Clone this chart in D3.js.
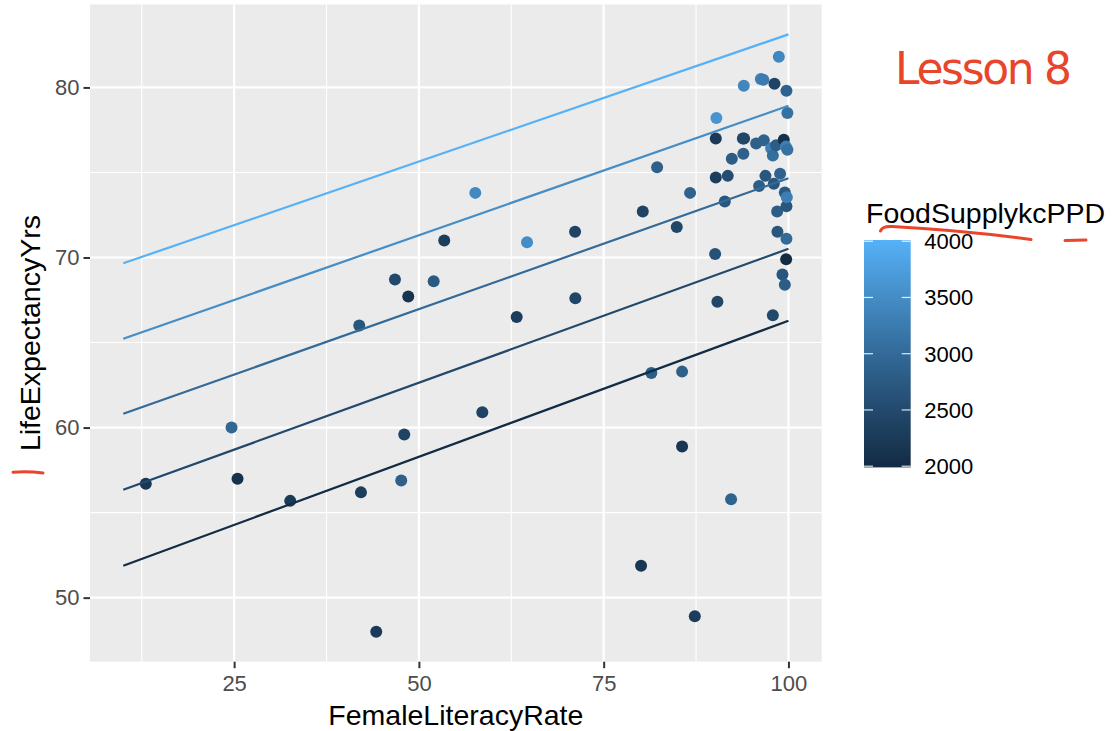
<!DOCTYPE html>
<html>
<head>
<meta charset="utf-8">
<script src="https://cdn.jsdelivr.net/npm/d3@7"></script>
<style>
  html, body { margin: 0; padding: 0; background: #ffffff; }
  svg { display: block; font-family: "Liberation Sans", Arial, Helvetica, sans-serif; }
</style>
</head>
<body>
<script>
// ---- Data ----
const femaleLiteracy = [13.05, 24.65, 25.46, 32.59, 41.93, 42.16, 44.23, 46.76, 47.61, 48.02,
  48.56, 52.0, 53.43, 57.63, 58.58, 63.23, 64.63, 71.13, 71.17, 80.06,
  80.29, 81.45, 82.23, 84.89, 85.61, 85.61, 86.69, 87.33, 90.08, 90.17,
  90.17, 90.25, 90.39, 91.39, 91.79, 92.24, 92.34, 93.83, 94.0, 93.9,
  93.96, 95.63, 96.03, 96.26, 96.6, 96.67, 96.89, 97.66, 97.89, 97.89,
  98.02, 98.11, 98.33, 98.47, 98.51, 98.7, 98.87, 99.19, 99.37, 99.51,
  99.51, 99.65, 99.69, 99.73, 99.73, 99.73, 99.78, 99.86, 99.86];
const lifeExpectancy = [56.69, 60.0, 56.99, 55.69, 66.0, 56.19, 47.99, 68.71, 56.89, 59.59,
  67.71, 68.6, 71.0, 73.8, 60.9, 66.5, 70.9, 71.51, 67.61, 51.88,
  72.7, 63.21, 75.3, 71.8, 63.29, 58.89, 73.8, 48.9, 70.2, 77.0,
  74.7, 78.2, 67.4, 73.29, 74.8, 55.79, 75.8, 77.0, 77.0, 76.1,
  80.1, 76.7, 74.2, 80.49, 80.45, 76.9, 74.8, 76.42, 76.0, 66.61,
  74.33, 80.22, 76.6, 72.7, 71.51, 81.8, 74.92, 69.0, 76.93, 73.82,
  68.4, 76.52, 69.9, 79.8, 73.01, 71.1, 73.54, 78.5, 76.33];
const foodSupply = [2200, 2950, 2100, 2250, 2700, 2300, 2250, 2500, 2850, 2400,
  2150, 2750, 2300, 3450, 2400, 2300, 3500, 2400, 2450, 2200,
  2400, 2800, 2850, 2450, 2850, 2200, 2900, 2300, 2600, 2250,
  2300, 3600, 2450, 2700, 2550, 2900, 2800, 2500, 2450, 2850,
  3400, 2850, 2800, 3350, 3250, 2900, 2700, 3300, 3050, 2500,
  2700, 2400, 2800, 2800, 2700, 3400, 2900, 2700, 2100, 2750,
  2800, 3300, 2000, 2900, 2700, 3000, 3300, 3100, 3100];

// model prediction lines, one per food supply level
const lineLevels = [2000, 2500, 3000, 3500, 4000];
const lineX = [10, 100];
const lineStartY = [51.88, 56.34, 60.81, 65.22, 69.66];
const lineEndY = [66.28, 70.51, 74.66, 78.92, 83.12];

const xTicks = [25, 50, 75, 100];
const xMinor = [12.5, 37.5, 62.5, 87.5];
const yTicks = [50, 60, 70, 80];
const yMinor = [55, 65, 75];
const legendTicks = [2000, 2500, 3000, 3500, 4000];

const xTitle = "FemaleLiteracyRate";
const yTitle = "LifeExpectancyYrs";
const legendTitle = "FoodSupplykcPPD";
const noteText = "Lesson 8";

// ---- Layout ----
const W = 1120, H = 731;
const panel = { left: 90, right: 821.7, top: 4.5, bottom: 661.7 };

const svg = d3.select("body").append("svg").attr("width", W).attr("height", H);

function expand(ext) { const d = (ext[1] - ext[0]) * 0.05; return [ext[0] - d, ext[1] + d]; }
const xExt = d3.extent(femaleLiteracy.concat(lineX));
const yExt = d3.extent(lifeExpectancy.concat(lineStartY, lineEndY));

const x = d3.scaleLinear().domain(expand(xExt)).range([panel.left, panel.right]);
const y = d3.scaleLinear().domain(expand(yExt)).range([panel.bottom, panel.top]);
const color = d3.scaleLinear().domain([2000, 4000]).range(["#132B43", "#56B1F7"]).interpolate(d3.interpolateLab);

// panel background
svg.append("rect").attr("x", panel.left).attr("y", panel.top)
  .attr("width", panel.right - panel.left).attr("height", panel.bottom - panel.top)
  .attr("fill", "#EBEBEB");

const grid = svg.append("g");
grid.selectAll(".xmin").data(xMinor).join("line")
  .attr("x1", d => x(d)).attr("x2", d => x(d)).attr("y1", panel.top).attr("y2", panel.bottom)
  .attr("stroke", "#fff").attr("stroke-width", 1.1);
grid.selectAll(".ymin").data(yMinor).join("line")
  .attr("y1", d => y(d)).attr("y2", d => y(d)).attr("x1", panel.left).attr("x2", panel.right)
  .attr("stroke", "#fff").attr("stroke-width", 1.1);
grid.selectAll(".xmaj").data(xTicks).join("line")
  .attr("x1", d => x(d)).attr("x2", d => x(d)).attr("y1", panel.top).attr("y2", panel.bottom)
  .attr("stroke", "#fff").attr("stroke-width", 2.2);
grid.selectAll(".ymaj").data(yTicks).join("line")
  .attr("y1", d => y(d)).attr("y2", d => y(d)).attr("x1", panel.left).attr("x2", panel.right)
  .attr("stroke", "#fff").attr("stroke-width", 2.2);

// points
const pts = femaleLiteracy.map((v, i) => ({ x: v, y: lifeExpectancy[i], f: foodSupply[i] }));
svg.append("g").selectAll("circle").data(pts).join("circle")
  .attr("cx", d => x(d.x)).attr("cy", d => y(d.y)).attr("r", 6)
  .attr("fill", d => color(d.f));

// lines
const lineGen = d3.line().x(d => x(d[0])).y(d => y(d[1]));
svg.append("g").selectAll("path").data(lineLevels.map((lv, i) => ({
    lv, pts: [[lineX[0], lineStartY[i]], [lineX[1], lineEndY[i]]] })))
  .join("path")
  .attr("d", d => lineGen(d.pts))
  .attr("fill", "none").attr("stroke", d => color(d.lv)).attr("stroke-width", 2.2);

// axes
const xAxis = svg.append("g").attr("transform", `translate(0,${panel.bottom})`)
  .call(d3.axisBottom(x).tickValues(xTicks).tickSize(6.5).tickPadding(7.5).tickFormat(d3.format("d")));
const yAxis = svg.append("g").attr("transform", `translate(${panel.left},0)`)
  .call(d3.axisLeft(y).tickValues(yTicks).tickSize(6.5).tickPadding(4).tickFormat(d3.format("d")));
[xAxis, yAxis].forEach(g => {
  g.select(".domain").remove();
  g.selectAll(".tick line").attr("stroke", "#333333").attr("stroke-width", 2);
  g.selectAll(".tick text").attr("fill", "#4D4D4D").style("font-size", "22px")
    .style("font-family", "'Liberation Sans', Arial, sans-serif");
});

// axis titles
svg.append("text").attr("x", (panel.left + panel.right) / 2).attr("y", 725)
  .attr("text-anchor", "middle").style("font-size", "28.5px").attr("fill", "#000").text(xTitle);
svg.append("text").attr("transform", `translate(39.5,${(panel.top + panel.bottom) / 2}) rotate(-90)`)
  .attr("text-anchor", "middle").style("font-size", "28.5px").attr("fill", "#000").text(yTitle);

// legend colorbar
const bar = { x: 864, w: 46.7 };
const ly = d3.scaleLinear().domain([2000, 4000]).range([466.2, 241.2]);
const defs = svg.append("defs");
const grad = defs.append("linearGradient").attr("id", "fsgrad")
  .attr("x1", 0).attr("x2", 0).attr("y1", 1).attr("y2", 0);
d3.range(0, 1.0001, 0.05).forEach(t => {
  grad.append("stop").attr("offset", t).attr("stop-color", color(2000 + t * 2000));
});
svg.append("rect").attr("x", bar.x).attr("y", ly(4000) - 1.2).attr("width", bar.w)
  .attr("height", ly(2000) - ly(4000) + 2.4).attr("fill", "url(#fsgrad)");
const lt = svg.append("g");
lt.selectAll(".tl").data(legendTicks).join("line")
  .attr("x1", bar.x).attr("x2", bar.x + 9).attr("y1", d => ly(d)).attr("y2", d => ly(d))
  .attr("stroke", "#fff").attr("stroke-opacity", 0.85).attr("stroke-width", 1.2);
lt.selectAll(".tr").data(legendTicks).join("line")
  .attr("x1", bar.x + bar.w - 9).attr("x2", bar.x + bar.w).attr("y1", d => ly(d)).attr("y2", d => ly(d))
  .attr("stroke", "#fff").attr("stroke-opacity", 0.85).attr("stroke-width", 1.2);
lt.selectAll("text").data(legendTicks).join("text")
  .attr("x", 924.3).attr("y", d => ly(d)).attr("dy", "0.36em")
  .style("font-size", "22px").attr("fill", "#000").text(d => d);
svg.append("text").attr("x", 866).attr("y", 222.7).style("font-size", "28.5px")
  .attr("fill", "#000").text(legendTitle);

// hand-drawn red annotations
const red = "#E9452B";
svg.append("text").attr("x", 895).attr("y", 83.5)
  .attr("textLength", 177).attr("lengthAdjust", "spacing")
  .style("font-size", "44px").style("font-family", "'DejaVu Sans', sans-serif")
  .style("font-weight", 400)
  .attr("fill", red).text(noteText);
svg.append("path").attr("d", "M880.5,231 Q882,226 892,226.5 Q960,230 1031,239.5")
  .attr("fill", "none").attr("stroke", red).attr("stroke-width", 3).attr("stroke-linecap", "round");
svg.append("path").attr("d", "M1065,240.5 L1086,240")
  .attr("fill", "none").attr("stroke", red).attr("stroke-width", 3).attr("stroke-linecap", "round");
svg.append("path").attr("d", "M13,472.2 Q28,471 43,473")
  .attr("fill", "none").attr("stroke", red).attr("stroke-width", 3).attr("stroke-linecap", "round");
</script>
</body>
</html>
